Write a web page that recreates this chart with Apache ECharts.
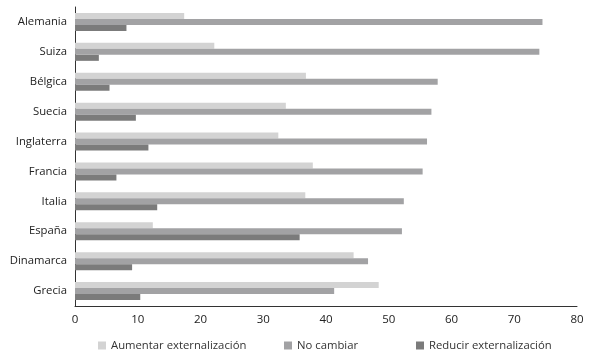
<!DOCTYPE html>
<html><head><meta charset="utf-8">
<script src="https://cdn.jsdelivr.net/npm/echarts@6/dist/echarts.min.js"></script>
<style>html,body{margin:0;padding:0;background:#fff}#c{width:602px;height:361px}</style>
</head><body><div id="c"></div>
<script>
const categories = ["Alemania","Suiza","Bélgica","Suecia","Inglaterra","Francia","Italia","España","Dinamarca","Grecia"];
const seriesNames = ["Aumentar externalización","No cambiar","Reducir externalización"];
const aumentar = [17.4, 22.2, 36.8, 33.6, 32.4, 37.9, 36.7, 12.4, 44.4, 48.4];
const noCambiar = [74.5, 74.0, 57.8, 56.8, 56.1, 55.4, 52.4, 52.1, 46.7, 41.3];
const reducir = [8.2, 3.8, 5.5, 9.7, 11.7, 6.6, 13.1, 35.8, 9.1, 10.4];
const xTicks = [0,10,20,30,40,50,60,70,80];

const colors = ["#d3d3d3","#a2a2a4","#7b7b7b"];
const font = "'Open Sans', sans-serif";
const chart = echarts.init(document.getElementById('c'), null, {renderer:'canvas'});
const legendBase = {bottom: 5, itemWidth: 8, itemHeight: 8, icon: 'rect', itemGap: 0,
  textStyle: {fontFamily: font, fontSize: 11.3, color: '#333', padding:[0,0,0,0]}};
chart.setOption({
  animation: false,
  color: colors,
  grid: {left: 75, right: 25, top: 7, bottom: 55, containLabel: false},
  legend: [
    Object.assign({}, legendBase, {left: 93, data: [seriesNames[0]]}),
    Object.assign({}, legendBase, {left: 279, data: [seriesNames[1]]}),
    Object.assign({}, legendBase, {left: 411, data: [seriesNames[2]]})
  ],
  xAxis: {
    type: 'value', min: xTicks[0], max: xTicks[xTicks.length-1], interval: 10,
    axisLine: {show: true, lineStyle: {color: '#333', width: 1}},
    axisTick: {show: false},
    splitLine: {show: false},
    axisLabel: {fontFamily: font, fontSize: 11.5, color: '#222', margin: 8}
  },
  yAxis: {
    type: 'category', data: categories, inverse: true,
    axisLine: {show: true, lineStyle: {color: '#333', width: 1}},
    axisTick: {show: false},
    axisLabel: {fontFamily: font, fontSize: 11.3, color: '#222', margin: 8}
  },
  series: [
    {name: seriesNames[0], type: 'bar', data: aumentar, barWidth: 6, barGap: '0%'},
    {name: seriesNames[1], type: 'bar', data: noCambiar, barWidth: 6, barGap: '0%'},
    {name: seriesNames[2], type: 'bar', data: reducir, barWidth: 6, barGap: '0%'}
  ]
});
</script></body></html>
